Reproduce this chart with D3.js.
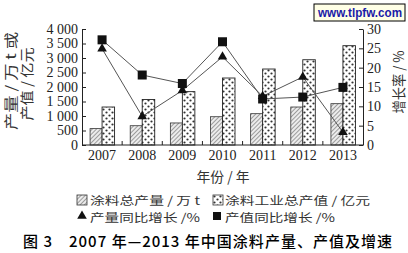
<!DOCTYPE html>
<html>
<head>
<meta charset="utf-8">
<script src="https://cdn.jsdelivr.net/npm/d3@7"></script>
<style>
  body { margin: 0; background: #fff; }
  svg { display: block; }
</style>
</head>
<body>
<div id="chart"></div>
<script>
var width = 408;
var height = 253;

// data
var years = ["2007", "2008", "2009", "2010", "2011", "2012", "2013"];
var output = [565, 665, 760, 975, 1080, 1310, 1425];        // 涂料总产量 / 万 t
var value = [1310, 1570, 1840, 2310, 2620, 2940, 3425];     // 涂料工业总产值 / 亿元
var outputGrowth = [24.9, 7.4, 14.1, 22.8, 12.6, 17.6, 3.3]; // 产量同比增长 /%
var valueGrowth = [27.2, 18.1, 15.9, 26.7, 11.9, 12.4, 14.9]; // 产值同比增长 /%
var leftTicks = [0, 500, 1000, 1500, 2000, 2500, 3000, 3500, 4000];
var rightTicks = [0, 5, 10, 15, 20, 25, 30];

var SERIF = "'Liberation Serif', 'DejaVu Serif', serif";
var CJK = "'Noto Sans CJK SC', sans-serif";

var svg = d3.select("#chart").append("svg")
    .attr("width", width)
    .attr("height", height);

var defs = svg.append("defs");

// hatched pattern
var hatch = defs.append("pattern")
    .attr("id", "hatch")
    .attr("patternUnits", "userSpaceOnUse")
    .attr("width", 3).attr("height", 3)
    .attr("patternTransform", "rotate(45)");
hatch.append("rect").attr("width", 3).attr("height", 3).attr("fill", "#ececec");
hatch.append("line")
    .attr("x1", 0).attr("y1", 0).attr("x2", 0).attr("y2", 3)
    .attr("stroke", "#666").attr("stroke-width", 1.2);

// dotted pattern
var dots = defs.append("pattern")
    .attr("id", "dots")
    .attr("patternUnits", "userSpaceOnUse")
    .attr("width", 6).attr("height", 6);
dots.append("rect").attr("width", 6).attr("height", 6).attr("fill", "#fff");
dots.append("circle").attr("cx", 1.5).attr("cy", 1.5).attr("r", 1.1).attr("fill", "#333");
dots.append("circle").attr("cx", 4.5).attr("cy", 4.5).attr("r", 1.1).attr("fill", "#333");

// scales
var x = d3.scaleBand().domain(years).range([82, 363]);
var yLeft = d3.scaleLinear().domain([0, 4000]).range([145, 29]);
var yRight = d3.scaleLinear().domain([0, 30]).range([145, 29]);
var barW = 12;

// bars
svg.selectAll("rect.output").data(output).enter().append("rect")
    .attr("class", "output")
    .attr("x", function(d, i) { return x(years[i]) + x.bandwidth() / 2 - barW; })
    .attr("y", function(d) { return yLeft(d); })
    .attr("width", barW)
    .attr("height", function(d) { return yLeft(0) - yLeft(d); })
    .attr("fill", "url(#hatch)")
    .attr("stroke", "#333").attr("stroke-width", 0.8);

svg.selectAll("rect.value").data(value).enter().append("rect")
    .attr("class", "value")
    .attr("x", function(d, i) { return x(years[i]) + x.bandwidth() / 2; })
    .attr("y", function(d) { return yLeft(d); })
    .attr("width", barW + 0.5)
    .attr("height", function(d) { return yLeft(0) - yLeft(d); })
    .attr("fill", "url(#dots)")
    .attr("stroke", "#222").attr("stroke-width", 0.9);

// axes
var leftAxis = svg.append("g")
    .attr("transform", "translate(82,0)")
    .call(d3.axisLeft(yLeft).tickValues(leftTicks).tickSizeInner(-4).tickSizeOuter(0)
        .tickFormat(function(d) { return d3.format(",")(d).replace(",", " "); }));
leftAxis.selectAll("text").attr("x", -4);

var rightAxis = svg.append("g")
    .attr("transform", "translate(363,0)")
    .call(d3.axisRight(yRight).tickValues(rightTicks).tickSizeInner(-4).tickSizeOuter(0));
rightAxis.selectAll("text").attr("x", 4);

var bottomAxis = svg.append("g")
    .attr("transform", "translate(0,145)")
    .call(d3.axisBottom(x).tickSize(0).tickPadding(5));
bottomAxis.select(".domain").remove();

[leftAxis, rightAxis, bottomAxis].forEach(function(g) {
    g.attr("font-family", SERIF).attr("font-size", 14);
    g.selectAll("text").attr("fill", "#222");
});

svg.selectAll(".domain").attr("stroke", "#222");
svg.selectAll(".tick line").attr("stroke", "#222");

svg.append("line")
    .attr("x1", x.range()[0]).attr("x2", x.range()[1])
    .attr("y1", yLeft(0)).attr("y2", yLeft(0))
    .attr("stroke", "#222");

// small upward ticks between years
svg.selectAll("line.sep").data(years.slice(1)).enter().append("line")
    .attr("class", "sep")
    .attr("x1", function(d) { return x(d); })
    .attr("x2", function(d) { return x(d); })
    .attr("y1", yLeft(0)).attr("y2", yLeft(0) - 4)
    .attr("stroke", "#222");

// growth lines
var cx = function(i) { return x(years[i]) + x.bandwidth() / 2; };
var line = d3.line()
    .x(function(d, i) { return cx(i); })
    .y(function(d) { return yRight(d); });

svg.append("path").attr("d", line(valueGrowth))
    .attr("fill", "none").attr("stroke", "#555").attr("stroke-width", 1);
svg.append("path").attr("d", line(outputGrowth))
    .attr("fill", "none").attr("stroke", "#555").attr("stroke-width", 1);

var tri = d3.symbol().type(d3.symbolTriangle).size(40);
svg.selectAll("path.tri").data(outputGrowth).enter().append("path")
    .attr("class", "tri")
    .attr("d", tri)
    .attr("transform", function(d, i) { return "translate(" + cx(i) + "," + yRight(d) + ")"; })
    .attr("fill", "#111");

svg.selectAll("rect.sq").data(valueGrowth).enter().append("rect")
    .attr("class", "sq")
    .attr("x", function(d, i) { return cx(i) - 4.5; })
    .attr("y", function(d) { return yRight(d) - 4.5; })
    .attr("width", 9).attr("height", 9)
    .attr("fill", "#111");

// text helper
function label(txt, xPos, yPos, opts) {
    opts = opts || {};
    var t = svg.append("text")
        .attr("x", xPos).attr("y", yPos)
        .style("font-family", CJK)
        .style("font-size", (opts.size || 11.5) + "px")
        .style("fill", opts.fill || "#333")
        .attr("text-anchor", opts.anchor || "start")
        .text(txt);
    if (opts.rotate) {
        t.attr("x", 0).attr("y", 0)
            .attr("transform", "translate(" + xPos + "," + yPos + ") rotate(" + opts.rotate + ")");
    }
    if (opts.len) {
        t.attr("textLength", opts.len).attr("lengthAdjust", "spacingAndGlyphs");
    }
    return t;
}

// axis titles
label("产量 / 万 t 或", 16, 81, { rotate: -90, anchor: "middle", size: 14, len: 98 });
label("产值 / 亿元", 32, 84, { rotate: -90, anchor: "middle", size: 14, len: 73 });
label("增长率 / %", 404, 82, { rotate: -90, anchor: "middle", size: 14, len: 63 });
label("年份 / 年", 223, 182, { anchor: "middle", size: 14, len: 53 });

// legend
svg.append("rect").attr("x", 77).attr("y", 195).attr("width", 10).attr("height", 10)
    .attr("fill", "url(#hatch)").attr("stroke", "#333").attr("stroke-width", 0.8);
label("涂料总产量 / 万 t", 90, 204.5, { len: 110 });
svg.append("rect").attr("x", 213).attr("y", 195).attr("width", 10).attr("height", 10)
    .attr("fill", "url(#dots)").attr("stroke", "#333").attr("stroke-width", 0.8);
label("涂料工业总产值 / 亿元", 225, 204.5, { len: 145 });

svg.append("path").attr("d", tri).attr("transform", "translate(82,216)").attr("fill", "#111");
label("产量同比增长 /%", 90, 221.5, { len: 110 });
svg.append("rect").attr("x", 213).attr("y", 212).attr("width", 8).attr("height", 8).attr("fill", "#111");
label("产值同比增长 /%", 225, 221.5, { len: 110 });

// caption
svg.append("text")
    .attr("x", 23).attr("y", 247)
    .attr("textLength", 369).attr("lengthAdjust", "spacing")
    .style("font-family", CJK)
    .style("font-size", "15px").style("font-weight", "500")
    .style("fill", "#000")
    .text("图 3　2007 年—2013 年中国涂料产量、产值及增速");

// watermark
svg.append("rect").attr("x", 314).attr("y", 4).attr("width", 91).attr("height", 17)
    .attr("fill", "#ffffe6").attr("stroke", "#000").attr("stroke-width", 1);
svg.append("text").attr("x", 318).attr("y", 17)
    .attr("textLength", 84).attr("lengthAdjust", "spacingAndGlyphs")
    .style("font-family", "'Liberation Sans', Arial, sans-serif")
    .style("font-size", "12.5px").style("font-weight", "bold")
    .style("fill", "#1a1aa8")
    .text("www.tlpfw.com");
</script>
</body>
</html>
